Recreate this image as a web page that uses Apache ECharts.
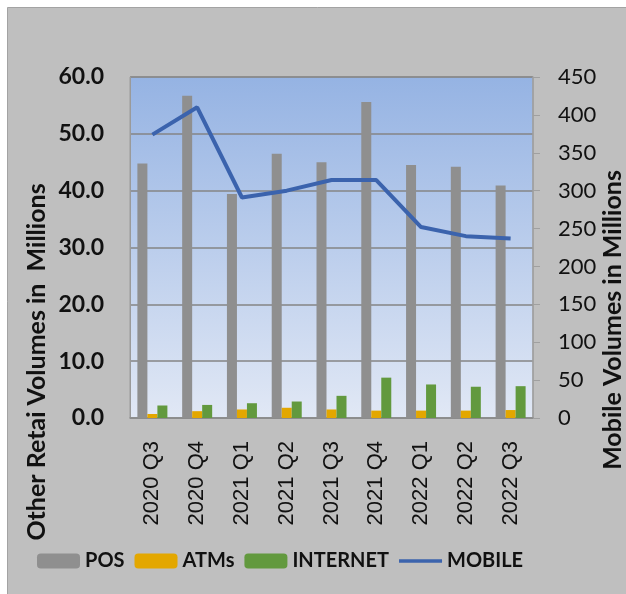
<!DOCTYPE html>
<html>
<head>
<meta charset="utf-8">
<script src="https://cdn.jsdelivr.net/npm/echarts@6/dist/echarts.min.js"></script>
<style>
  html, body { margin: 0; padding: 0; background: #ffffff; }
  #dom { width: 626px; height: 594px; }
</style>
</head>
<body>
<div id="dom"></div>
<script>
// quarters on the x axis
const quarters = ['2020 Q3', '2020 Q4', '2021 Q1', '2021 Q2', '2021 Q3', '2021 Q4', '2022 Q1', '2022 Q2', '2022 Q3']
// left axis, millions
const posData = [44.8, 56.7, 39.4, 46.5, 45.0, 55.6, 44.5, 44.2, 40.9]
const atmData = [0.7, 1.2, 1.5, 1.8, 1.5, 1.3, 1.3, 1.3, 1.4]
const internetData = [2.2, 2.3, 2.6, 2.9, 3.9, 7.1, 5.9, 5.5, 5.6]
// right axis, millions
const mobileData = [374, 410, 291, 300, 314, 314, 252, 240, 237]

const calibri = 'Lato, "Open Sans", sans-serif'

const option = {
  animation: false,
  backgroundColor: '#ffffff',
  graphic: [{
    type: 'rect',
    z: -10,
    shape: { x: 7.5, y: 7.5, width: 640, height: 620 },
    style: { fill: '#bfbfbf', stroke: '#a3a3a3', lineWidth: 1 }
  }, {
    type: 'text',
    x: 37,
    y: 362,
    rotation: Math.PI / 2,
    style: {
      text: 'Other Retai Volumes in  Millions',
      fontFamily: calibri,
      fontWeight: 'bold',
      fontSize: 25,
      fill: '#111111',
      textAlign: 'center',
      textVerticalAlign: 'middle'
    }
  }, {
    type: 'text',
    x: 613,
    y: 320,
    rotation: Math.PI / 2,
    style: {
      text: 'Mobile Volumes in Millions',
      fontFamily: calibri,
      fontWeight: 'bold',
      fontSize: 25,
      fill: '#111111',
      textAlign: 'center',
      textVerticalAlign: 'middle'
    }
  }],
  legend: {
    left: 37,
    top: 551,
    padding: 0,
    itemWidth: 43,
    itemHeight: 15,
    itemGap: 10,
    textStyle: { fontFamily: calibri, fontWeight: 'bold', fontSize: 20, color: '#111111' },
    data: ['POS', 'ATMs', 'INTERNET', {
      name: 'MOBILE',
      icon: 'path://M0,0 L43,0 L43,3.5 L0,3.5 Z'
    }]
  },
  grid: {
    left: 130,
    right: 93,
    top: 77,
    bottom: 176,
    show: true,
    borderColor: '#9a9a9a',
    borderWidth: 1,
    backgroundColor: {
      type: 'linear', x: 0, y: 0, x2: 0, y2: 1,
      colorStops: [{ offset: 0, color: '#95b3e3' }, { offset: 1, color: '#e1e8f5' }]
    }
  },
  xAxis: [{
    type: 'category',
    data: quarters,
    axisLine: { lineStyle: { color: '#8c8c8c', width: 1.5 } },
    axisTick: { show: false },
    axisLabel: {
      rotate: 90,
      margin: 23,
      interval: 0,
      fontFamily: '"Liberation Sans", Arial, sans-serif',
      fontSize: 22,
      color: '#111111'
    }
  }],
  yAxis: [{
    type: 'value',
    min: 0,
    max: 60,
    interval: 10,
    axisLine: { show: true, lineStyle: { color: '#9a9a9a' } },
    axisTick: { show: false },
    splitLine: { lineStyle: { color: '#858585', width: 1.5 } },
    axisLabel: {
      margin: 26,
      fontFamily: calibri,
      fontWeight: 'bold',
      fontSize: 23,
      color: '#111111',
      formatter: v => v.toFixed(1)
    }
  }, {
    type: 'value',
    min: 0,
    max: 450,
    interval: 50,
    position: 'right',
    axisLine: { show: true, lineStyle: { color: '#a0a0a0', width: 1.5 } },
    axisTick: { show: true, length: 7, lineStyle: { color: '#a0a0a0' } },
    splitLine: { show: false },
    axisLabel: {
      margin: 25,
      fontFamily: calibri,
      fontSize: 22,
      color: '#111111'
    }
  }],
  series: [{
    name: 'POS',
    type: 'bar',
    data: posData,
    barWidth: 10,
    barGap: '0%',
    itemStyle: { color: '#8f8f8f' }
  }, {
    name: 'ATMs',
    type: 'bar',
    data: atmData,
    barWidth: 10,
    barGap: '0%',
    itemStyle: { color: '#e3a700' }
  }, {
    name: 'INTERNET',
    type: 'bar',
    data: internetData,
    barWidth: 10,
    barGap: '0%',
    itemStyle: { color: '#62993e' }
  }, {
    name: 'MOBILE',
    type: 'line',
    yAxisIndex: 1,
    data: mobileData,
    symbol: 'none',
    lineStyle: { color: '#3b63ad', width: 4 },
    itemStyle: { color: '#3b63ad' }
  }]
}

const dom = echarts.init(document.getElementById('dom'))
dom.setOption(option)
</script>
</body>
</html>
